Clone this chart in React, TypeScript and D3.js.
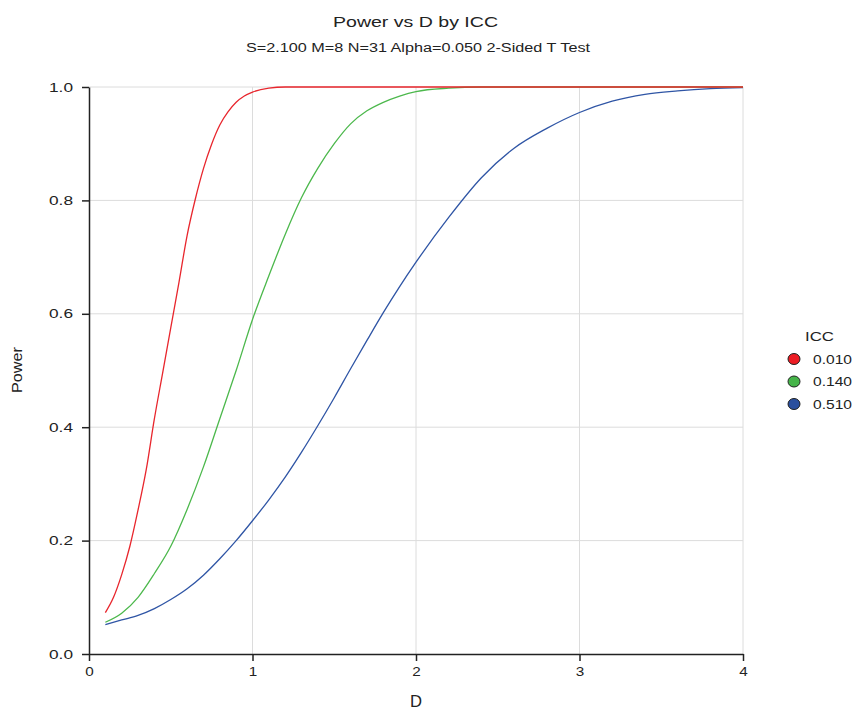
import React, { useEffect, useRef } from 'react';
import * as d3 from 'd3';

// values
const dRed = [0.1, 0.15, 0.2, 0.25, 0.3, 0.35, 0.4, 0.45, 0.5, 0.55, 0.6, 0.65, 0.7, 0.75, 0.8, 0.85, 0.9, 0.95, 1.0, 1.1, 1.2, 4.0];
const pRed = [0.073, 0.1, 0.14, 0.19, 0.254, 0.325, 0.415, 0.495, 0.575, 0.655, 0.738, 0.802, 0.856, 0.899, 0.933, 0.956, 0.973, 0.984, 0.991, 0.998, 1.0, 1.0];

const dGreen = [0.1, 0.2, 0.3, 0.4, 0.5, 0.6, 0.7, 0.8, 0.9, 1.0, 1.1, 1.2, 1.3, 1.4, 1.5, 1.6, 1.7, 1.8, 1.9, 2.0, 2.2, 2.4, 4.0];
const pGreen = [0.056, 0.072, 0.1, 0.142, 0.19, 0.255, 0.33, 0.415, 0.5, 0.59, 0.667, 0.74, 0.805, 0.857, 0.9, 0.935, 0.958, 0.973, 0.984, 0.992, 0.998, 1.0, 1.0];

const dBlue = [0.1, 0.2, 0.3, 0.4, 0.5, 0.6, 0.7, 0.8, 0.9, 1.0, 1.1, 1.2, 1.3, 1.4, 1.5, 1.6, 1.7, 1.8, 1.9, 2.0, 2.2, 2.4, 2.6, 2.8, 3.0, 3.2, 3.4, 3.6, 3.8, 4.0];
const pBlue = [0.052, 0.06, 0.068, 0.08, 0.096, 0.115, 0.139, 0.168, 0.2, 0.235, 0.272, 0.312, 0.356, 0.403, 0.452, 0.503, 0.553, 0.602, 0.648, 0.691, 0.77, 0.84, 0.892, 0.927, 0.955, 0.975, 0.987, 0.993, 0.997, 0.999];

const iccLabels = ['0.010', '0.140', '0.510'];
const lineColors = ['#e8262d', '#4cb84c', '#2f55a5'];
const dotColors = ['#ed1c24', '#45b449', '#2a4f9e'];

const xTicks = [0, 1, 2, 3, 4];
const yTicks = [0, 0.2, 0.4, 0.6, 0.8, 1.0];

const FONT = '"Liberation Sans", Arial, sans-serif';

export default function App() {
  const ref = useRef<SVGSVGElement>(null);

  useEffect(() => {
    const svg = d3.select(ref.current);
    svg.selectAll('*').remove();

    const left = 89, right = 743, top = 87, bottom = 654;
    const x = d3.scaleLinear().domain([0, 4]).range([left, right]);
    const y = d3.scaleLinear().domain([0, 1]).range([bottom, top]);

    // the reference text is a bit wider than plain Arial, so stretch it
    const stretch = (sel: any, w: number) =>
      sel.attr('textLength', w).attr('lengthAdjust', 'spacingAndGlyphs');

    // grid
    const grid = svg.append('g');
    grid.selectAll('line.h')
      .data(yTicks.filter(t => t > 0))
      .enter().append('line')
      .attr('x1', left).attr('x2', right)
      .attr('y1', d => y(d)).attr('y2', d => y(d))
      .attr('stroke', '#dcdcdc').attr('stroke-width', 1);
    grid.selectAll('line.v')
      .data(xTicks.filter(t => t > 0))
      .enter().append('line')
      .attr('x1', d => x(d)).attr('x2', d => x(d))
      .attr('y1', top).attr('y2', bottom)
      .attr('stroke', '#dcdcdc').attr('stroke-width', 1);

    // axes
    const yAxis = d3.axisLeft(y).tickValues(yTicks).tickFormat(d3.format('.1f')).tickSize(7).tickSizeOuter(0);
    const xAxis = d3.axisBottom(x).tickValues(xTicks).tickFormat(d3.format('d')).tickSize(7).tickSizeOuter(0);

    const ya = svg.append('g').attr('transform', `translate(${left},0)`).call(yAxis);
    const xa = svg.append('g').attr('transform', `translate(0,${bottom})`).call(xAxis);
    [ya, xa].forEach(a => {
      a.select('.domain').attr('stroke', '#222').attr('stroke-width', 1.5);
      a.selectAll('.tick line').attr('stroke', '#222').attr('stroke-width', 1.5);
      a.selectAll('.tick text')
        .attr('font-family', FONT).attr('font-size', 13).attr('fill', '#222');
    });
    stretch(ya.selectAll('.tick text').attr('x', -16), 24);
    stretch(xa.selectAll('.tick text').attr('y', 13), 8.5);

    // lines
    const series = [
      { d: dBlue, p: pBlue, c: lineColors[2] },
      { d: dGreen, p: pGreen, c: lineColors[1] },
      { d: dRed, p: pRed, c: lineColors[0] },
    ];
    const gen = d3.line<[number, number]>()
      .x(v => x(v[0]))
      .y(v => y(v[1]))
      .curve(d3.curveMonotoneX);
    series.forEach(s => {
      const pts = s.d.map((d, i) => [d, s.p[i]] as [number, number]);
      svg.append('path')
        .attr('d', gen(pts) as string)
        .attr('fill', 'none')
        .attr('stroke', s.c)
        .attr('stroke-width', 1.3);
    });

    // titles
    stretch(svg.append('text')
      .attr('x', 415.5).attr('y', 27)
      .attr('text-anchor', 'middle')
      .attr('font-family', FONT).attr('font-size', 15.5).attr('fill', '#222')
      .text('Power vs D by ICC'), 165);
    stretch(svg.append('text')
      .attr('x', 418).attr('y', 52)
      .attr('text-anchor', 'middle')
      .attr('font-family', FONT).attr('font-size', 12).attr('fill', '#222')
      .text('S=2.100 M=8 N=31 Alpha=0.050 2-Sided T Test'), 344);
    stretch(svg.append('text')
      .attr('x', 416).attr('y', 707)
      .attr('text-anchor', 'middle')
      .attr('font-family', FONT).attr('font-size', 16).attr('fill', '#222')
      .text('D'), 12);
    stretch(svg.append('text')
      .attr('transform', 'translate(22,370) rotate(-90)')
      .attr('text-anchor', 'middle')
      .attr('font-family', FONT).attr('font-size', 14.5).attr('fill', '#222')
      .text('Power'), 46);

    // legend
    const lg = svg.append('g');
    stretch(lg.append('text')
      .attr('x', 819.5).attr('y', 341)
      .attr('text-anchor', 'middle')
      .attr('font-family', FONT).attr('font-size', 13.5).attr('fill', '#222')
      .text('ICC'), 29);
    iccLabels.forEach((lab, i) => {
      const cy = 359 + i * 22.5;
      lg.append('ellipse')
        .attr('cx', 794).attr('cy', cy).attr('rx', 6).attr('ry', 5.5)
        .attr('fill', dotColors[i]).attr('stroke', '#222').attr('stroke-width', 1);
      stretch(lg.append('text')
        .attr('x', 813).attr('y', cy + 4.5)
        .attr('font-family', FONT).attr('font-size', 13).attr('fill', '#222')
        .text(lab), 39);
    });
  }, []);

  return (
    <svg ref={ref} width={856} height={711}
      style={{ position: 'absolute', left: 0, top: 0, background: '#fff' }} />
  );
}
